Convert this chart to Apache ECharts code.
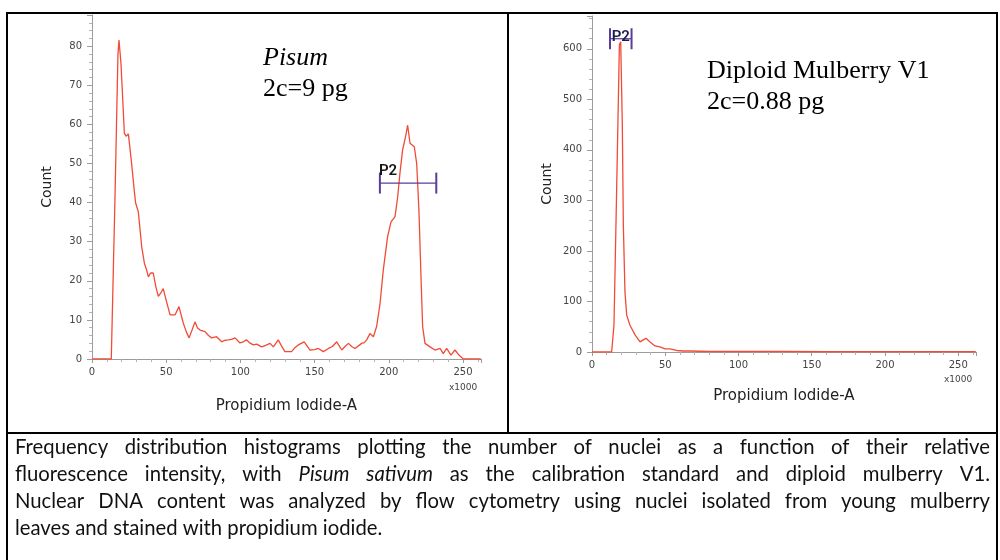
<!DOCTYPE html>
<html>
<head>
<meta charset="utf-8">
<script src="https://cdn.jsdelivr.net/npm/echarts@6/dist/echarts.min.js"></script>
<style>
  html, body { margin: 0; padding: 0; background: #fff; }
  #chart { width: 1000px; height: 560px; }
</style>
</head>
<body>
<div id="chart"></div>
<script>
// ---- Pisum sativum standard: Propidium Iodide-A (x1000) vs. nuclei count ----
const pisumX = [0, 13, 13.6, 15.5, 17.5, 18.2, 19.5, 20.4, 21.8, 23, 24.5, 26.7, 28.5, 29.4, 31.2,
  33.5, 35.3, 37, 38, 39.5, 41.3, 43, 44.7, 46.5, 48, 50, 52.6, 56, 58.6, 61.5, 63.5, 65.4, 67.5,
  69.4, 71, 72.8, 76.1, 78.5, 80.6, 84, 87.4, 89.5, 91.9, 94, 96.4, 99.7, 102, 104, 106, 108.7,
  111, 114.3, 117, 120, 122.2, 125.5, 127.5, 130, 134.5, 136.5, 139, 143, 146.9, 150, 152.5,
  155.9, 159.3, 162, 164.9, 168.3, 170.5, 172.8, 175, 177.2, 181.7, 183.5, 185.1, 187.3, 189.6,
  191.8, 194.1, 196.3, 199.2, 201.5, 204.2, 206, 207.5, 209.3, 211.3, 212.7, 214.3, 217.2, 218.8,
  220.3, 221.7, 222.8, 224.4, 227.8, 231.1, 234.5, 236.7, 239, 241.9, 244.6, 247.3, 250.2, 262];
const pisumCount = [0, 0, 0, 41.5, 78, 81.6, 75.7, 68.8, 57.8, 57, 57.6, 50, 43, 39.9, 37.7,
  28.7, 24.5, 22.5, 21, 22, 22, 18.5, 16, 17, 18, 15, 11.3, 11.3, 13.4, 9.2, 7, 5.4, 7.5,
  9.5, 8, 7.4, 7, 6, 5.4, 5.7, 4.4, 4.8, 4.9, 5, 5.4, 4.1, 4.4, 4.9, 4.2, 3.6,
  3.8, 3.1, 3.5, 4, 3.1, 4.9, 3.5, 1.9, 1.9, 2.8, 3.6, 4.4, 2.3, 2.4, 2.7,
  1.9, 2.7, 3.2, 4.4, 2.3, 3.2, 4, 3.2, 2.7, 4, 4.2, 4.9, 6.5, 5.7,
  8.3, 14.2, 22.8, 31.3, 35.1, 36.4, 41.5, 47.5, 53.5, 56.9, 59.8, 55.2, 54.3, 50,
  38.1, 21, 8.3, 4, 3.1, 2.3, 2.7, 1.4, 2.7, 1, 2.3, 1, 0, 0];

// ---- Diploid mulberry V1 ----
const mulberryX = [0, 13.4, 15, 16.8, 18.7, 19.6, 20.7, 21.4, 22.5, 23.7, 25.9, 29.4, 32.8, 35,
  36.9, 39.6, 43, 46.4, 49.8, 53.2, 57.8, 62.3, 67, 80, 100, 130, 160, 200, 262];
const mulberryCount = [0, 0, 53, 317, 608, 614, 449, 251, 119, 73, 53, 34, 20, 24,
  27, 20, 12, 10, 6, 6, 3, 2, 2, 1, 1, 1, 0.5, 0.5, 0.5];

// P2 gates: [from, to, count level]
const pisumGate = [194, 232, 45];
const mulberryGate = [12.3, 27, 620];

// Axis ranges and tick steps
const xRange = [0, 262], xStep = 50;
const pisumYRange = [0, 88], pisumYStep = 10;
const mulberryYRange = [0, 665], mulberryYStep = 100;

const panelTitles = [
  { lines: ['Pisum', '2c=9 pg'], italic: [true, false] },
  { lines: ['Diploid Mulberry V1', '2c=0.88 pg'], italic: [false, false] }
];

const captionLines = [
  'Frequency distribution histograms plotting the number of nuclei as a function of their relative',
  'fluorescence intensity, with _Pisum_ _sativum_ as the calibration standard and diploid mulberry V1.',
  'Nuclear DNA content was analyzed by flow cytometry using nuclei isolated from young mulberry',
  'leaves and stained with propidium iodide.'
];

const AXIS_FONT = 'DejaVu Sans';
const CURVE = '#f04b37';
const GATE = '#5b3c98';
const AXIS_GREY = '#9c9c9c';

function pairs(xs, ys) { return xs.map((x, i) => [x, ys[i]]); }

function xAxisCfg(gridIndex, nameGap) {
  return {
    type: 'value', gridIndex, min: xRange[0], max: xRange[1], interval: xStep,
    name: 'Propidium Iodide-A', nameLocation: 'middle', nameGap,
    nameTextStyle: { fontFamily: AXIS_FONT, fontSize: 15, color: '#222' },
    axisLine: { onZero: false, lineStyle: { color: AXIS_GREY, width: 1 } },
    axisTick: { show: true, length: 4, lineStyle: { color: AXIS_GREY } },
    minorTick: { show: true, splitNumber: 5, length: 3, lineStyle: { color: '#b4b4b4' } },
    axisLabel: { fontFamily: AXIS_FONT, fontSize: 10, color: '#444', margin: 8,
      formatter: v => (v % xStep === 0 ? String(v) : '') },
    splitLine: { show: false }
  };
}

function yAxisCfg(gridIndex, range, step, nameGap) {
  return {
    type: 'value', gridIndex, min: range[0], max: range[1], interval: step,
    name: 'Count', nameLocation: 'middle', nameGap, nameRotate: 90,
    nameTextStyle: { fontFamily: AXIS_FONT, fontSize: 14, color: '#222' },
    axisLine: { show: true, lineStyle: { color: AXIS_GREY, width: 1 } },
    axisTick: { show: true, length: 5, lineStyle: { color: AXIS_GREY } },
    minorTick: { show: true, splitNumber: 5, length: 3, lineStyle: { color: '#b4b4b4' } },
    axisLabel: { fontFamily: AXIS_FONT, fontSize: 10, color: '#444', margin: 10,
      formatter: v => (v % step === 0 ? String(v) : '') },
    splitLine: { show: false }
  };
}

function gateSeries(idx, gate, labelStyle) {
  return {
    type: 'custom', xAxisIndex: idx, yAxisIndex: idx, data: [gate], clip: false, z: 5,
    silent: true, animation: false,
    encode: { x: [0, 1], y: 2 },
    renderItem(params, api) {
      const a = api.coord([api.value(0), api.value(2)]);
      const b = api.coord([api.value(1), api.value(2)]);
      const h = 10.5;
      const lbl = labelStyle(a, b);
      return {
        type: 'group',
        children: [
          { type: 'line', shape: { x1: a[0], y1: a[1], x2: b[0], y2: b[1] },
            style: { stroke: GATE, lineWidth: 1.2 } },
          { type: 'line', shape: { x1: a[0], y1: a[1] - h, x2: a[0], y2: a[1] + h },
            style: { stroke: GATE, lineWidth: 2 } },
          { type: 'line', shape: { x1: b[0], y1: b[1] - h, x2: b[0], y2: b[1] + h },
            style: { stroke: GATE, lineWidth: 2 } },
          { type: 'text', x: lbl.x, y: lbl.y,
            style: { text: 'P2', font: '600 15px Roboto', fill: lbl.color,
              align: lbl.align, textAlign: lbl.align,
              verticalAlign: lbl.valign, textVerticalAlign: lbl.valign } }
        ]
      };
    }
  };
}

// Justified caption built word by word; font size chosen so the closing
// line spans the same width as the typeset original column.
const measureCtx = document.createElement('canvas').getContext('2d');
function captionElements() {
  const family = 'Lato';
  const left = 15, right = 990, y0 = 447, lineGap = 27, lastLineWidth = 368;
  measureCtx.font = '20px ' + family;
  const ref = measureCtx.measureText(captionLines[captionLines.length - 1]).width;
  const size = Math.round(20 * lastLineWidth / ref * 10) / 10;
  const els = [];
  captionLines.forEach((line, li) => {
    const words = line.split(' ').map(w => {
      const italic = /^_.*_[.,]?$/.test(w);
      const text = italic ? w.replace(/_/g, '') : w;
      const font = (italic ? 'italic ' : '') + size + 'px ' + family;
      measureCtx.font = font;
      return { text, font, w: measureCtx.measureText(text).width };
    });
    const last = li === captionLines.length - 1;
    measureCtx.font = size + 'px ' + family;
    const space = measureCtx.measureText(' ').width;
    const total = words.reduce((s, w) => s + w.w, 0);
    const gap = last ? space : (right - left - total) / (words.length - 1);
    let x = left;
    words.forEach(w => {
      els.push({ type: 'text', x, y: y0 + li * lineGap, silent: true,
        style: { text: w.text, font: w.font, fill: '#111', align: 'left', textAlign: 'left',
          verticalAlign: 'middle', textVerticalAlign: 'middle' } });
      x += w.w + gap;
    });
  });
  return els;
}

function frameLine(x1, y1, x2, y2) {
  return { type: 'line', silent: true, shape: { x1, y1, x2, y2 },
    style: { stroke: '#000', lineWidth: 2 } };
}

function titleElements(t, x, y0) {
  return t.lines.map((s, i) => ({
    type: 'text', x, y: y0 + i * 31, silent: true,
    style: { text: s, font: (t.italic[i] ? 'italic ' : '') + '26px "Liberation Serif"', fill: '#000',
      align: 'left', textAlign: 'left', verticalAlign: 'middle', textVerticalAlign: 'middle' }
  }));
}

function smallText(text, x, y) {
  return { type: 'text', x, y, silent: true,
    style: { text, font: '9px "DejaVu Sans"', fill: '#444', align: 'center', textAlign: 'center',
      verticalAlign: 'middle', textVerticalAlign: 'middle' } };
}

const chart = echarts.init(document.getElementById('chart'), null, { renderer: 'canvas' });

chart.setOption({
  animation: false,
  backgroundColor: '#fff',
  grid: [
    { left: 92, top: 15, width: 388.8, height: 344, containLabel: false },
    { left: 592, top: 16, width: 383.8, height: 336, containLabel: false }
  ],
  xAxis: [xAxisCfg(0, 40), xAxisCfg(1, 37)],
  yAxis: [
    yAxisCfg(0, pisumYRange, pisumYStep, 38),
    yAxisCfg(1, mulberryYRange, mulberryYStep, 38)
  ],
  series: [
    { type: 'line', xAxisIndex: 0, yAxisIndex: 0, data: pairs(pisumX, pisumCount),
      showSymbol: false, smooth: false, z: 4,
      lineStyle: { color: CURVE, width: 1.3 } },
    { type: 'line', xAxisIndex: 1, yAxisIndex: 1, data: pairs(mulberryX, mulberryCount),
      showSymbol: false, smooth: false, z: 4,
      lineStyle: { color: CURVE, width: 1.3 } },
    gateSeries(0, pisumGate, (a) => ({ x: a[0] - 1, y: a[1] - 4, align: 'left', valign: 'bottom', color: '#161616' })),
    gateSeries(1, mulberryGate, (a, b) => ({ x: (a[0] + b[0]) / 2, y: a[1] - 1, align: 'center', valign: 'middle', color: '#1c1c4e' }))
  ],
  graphic: [
    frameLine(6, 13, 998, 13),
    frameLine(7, 12, 7, 560),
    frameLine(997, 12, 997, 560),
    frameLine(508, 12, 508, 433),
    frameLine(6, 433, 998, 433),
    ...titleElements(panelTitles[0], 263, 58),
    ...titleElements(panelTitles[1], 707, 71),
    smallText('x1000', 463, 388),
    smallText('x1000', 958, 380),
    ...captionElements()
  ]
});
</script>
</body>
</html>
